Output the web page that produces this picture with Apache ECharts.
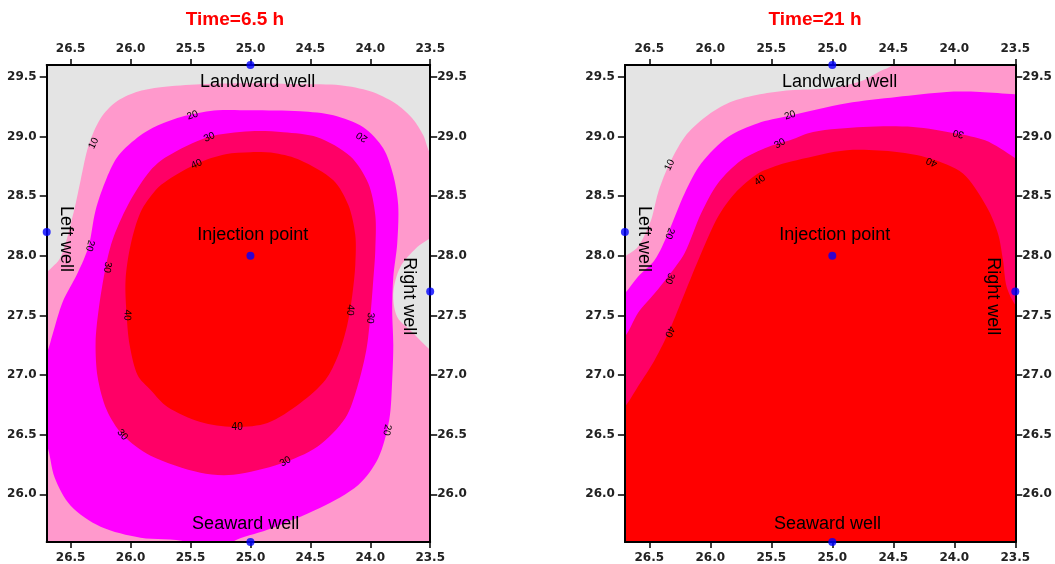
<!DOCTYPE html>
<html>
<head>
<meta charset="utf-8">
<script src="https://cdn.jsdelivr.net/npm/echarts@6/dist/echarts.min.js"></script>
<style>
  html, body { margin: 0; padding: 0; background: #fff; }
  #chart { width: 1055px; height: 564px; }
</style>
</head>
<body>
<div id="chart"></div>
<script>
// tick labels
var xTicks = [26.5, 26.0, 25.5, 25.0, 24.5, 24.0, 23.5];
var yTicks = [26.0, 26.5, 27.0, 27.5, 28.0, 28.5, 29.0, 29.5];
var titles = ['Time=6.5 h', 'Time=21 h'];

// wells: top, bottom, left, right, injection
var wells = [[25.0, 29.6], [25.0, 25.6], [26.7, 28.2], [23.5, 27.7], [25.0, 28.0]];
// name, x, y, rotate
var wellNames = [
    ['Landward well', 24.94, 29.455, 0],
    ['Seaward well', 25.04, 25.75, 0],
    ['Injection point', 24.98, 28.17, 0],
    ['Left well', 26.54, 28.14, -90],
    ['Right well', 23.68, 27.66, -90]
];

var levels = [10, 20, 30, 40];
var levelColors = ['#ff99cc', '#ff00ff', '#ff0066', '#ff0000'];

// contour outlines, Time=6.5 h (area above each level)
var t1_10 = [[26.85, 27.70], [26.95, 25.40], [23.30, 25.40], [23.35, 27.10],
    [23.50, 27.21], [23.642, 27.353], [23.775, 27.487], [23.808, 27.688], [23.75, 27.905], [23.608, 28.073], [23.50, 28.148], [23.35, 28.25],
    [23.35, 28.70], [23.50, 28.86], [23.558, 29.011], [23.65, 29.153], [23.792, 29.279], [24.0, 29.379], [24.25, 29.43], [24.583, 29.438],
    [25.0, 29.446], [25.417, 29.438], [25.75, 29.413], [25.958, 29.371], [26.125, 29.287], [26.25, 29.153], [26.35, 28.927], [26.417, 28.634],
    [26.475, 28.366], [26.583, 27.99], [26.70, 27.86]];
var t1_20 = [[25.0, 29.22], [24.583, 29.212], [24.308, 29.178], [24.058, 29.078], [23.892, 28.902], [23.808, 28.676], [23.767, 28.425],
    [23.775, 28.106], [23.808, 27.821], [23.817, 27.545], [23.808, 27.252], [23.817, 26.958], [23.842, 26.623], [23.933, 26.305], [24.10, 26.079],
    [24.417, 25.887], [24.858, 25.702], [25.15, 25.60], [25.22, 25.48], [25.45, 25.48], [25.533, 25.60], [25.917, 25.636], [26.25, 25.728],
    [26.50, 25.904], [26.633, 26.138], [26.70, 26.415], [26.82, 26.60], [26.82, 27.00], [26.70, 27.185], [26.65, 27.344], [26.567, 27.612],
    [26.442, 27.855], [26.35, 28.081], [26.292, 28.383], [26.2, 28.651], [26.1, 28.843], [25.917, 29.011], [25.75, 29.103], [25.525, 29.178],
    [25.275, 29.22]];
var t1_30 = [[25.0, 29.044], [24.725, 29.036], [24.442, 28.994], [24.167, 28.835], [24.017, 28.609], [23.958, 28.341], [23.958, 28.048],
    [23.975, 27.797], [24.0, 27.487], [24.033, 27.21], [24.108, 26.90], [24.208, 26.64], [24.442, 26.398], [24.75, 26.256], [25.142, 26.164],
    [25.417, 26.18], [25.833, 26.323], [26.067, 26.499], [26.2, 26.708], [26.275, 26.984], [26.292, 27.269], [26.267, 27.545], [26.208, 27.905],
    [26.142, 28.157], [26.0, 28.467], [25.833, 28.718], [25.692, 28.835], [25.358, 28.994]];
var t1_40 = [[25.0, 28.869], [24.792, 28.86], [24.583, 28.802], [24.308, 28.634], [24.183, 28.425], [24.125, 28.174], [24.125, 27.922],
    [24.15, 27.671], [24.192, 27.42], [24.267, 27.168], [24.375, 26.959], [24.583, 26.766], [24.858, 26.598], [25.142, 26.565], [25.417, 26.607],
    [25.692, 26.733], [25.833, 26.875], [25.942, 27.001], [26.008, 27.252], [26.033, 27.503], [26.042, 27.796], [26.0, 28.09], [25.917, 28.366],
    [25.792, 28.55], [25.692, 28.634], [25.442, 28.776], [25.208, 28.852]];

// contour outlines, Time=21 h
var t2_10 = [[26.85, 27.85], [26.70, 27.992], [26.593, 28.075], [26.486, 28.299], [26.429, 28.525], [26.347, 28.745], [26.21, 28.997],
    [26.043, 29.162], [25.839, 29.287], [25.593, 29.354], [25.347, 29.388], [25.019, 29.405], [24.748, 29.471], [24.609, 29.547], [24.503, 29.60],
    [24.40, 29.72], [23.30, 29.80], [23.30, 25.40], [26.90, 25.40]];
var t2_20 = [[26.85, 27.55], [26.70, 27.685], [26.593, 27.824], [26.456, 27.964], [26.347, 28.188], [26.21, 28.525], [26.074, 28.776],
    [25.855, 28.997], [25.609, 29.112], [25.371, 29.17], [24.882, 29.279], [24.472, 29.332], [24.062, 29.374], [23.789, 29.374], [23.50, 29.354],
    [23.30, 29.34], [23.30, 25.40], [26.90, 25.40]];
var t2_30 = [[26.85, 27.20], [26.70, 27.322], [26.593, 27.52], [26.456, 27.685], [26.347, 27.824], [26.21, 28.023], [26.074, 28.358],
    [25.937, 28.609], [25.746, 28.802], [25.527, 28.913], [25.347, 28.969], [25.158, 29.039], [24.748, 29.08], [24.338, 29.08], [23.98, 29.025],
    [23.748, 28.969], [23.625, 28.902], [23.50, 28.818], [23.30, 28.68], [23.30, 25.40], [26.90, 25.40]];
var t2_40 = [[26.85, 26.60], [26.70, 26.735], [26.593, 26.903], [26.456, 27.126], [26.333, 27.378], [26.21, 27.685], [26.074, 28.023],
    [25.937, 28.327], [25.80, 28.523], [25.609, 28.69], [25.445, 28.76], [25.292, 28.802], [24.882, 28.885], [24.472, 28.871], [24.199, 28.816],
    [23.929, 28.69], [23.734, 28.41], [23.642, 28.188], [23.601, 27.964], [23.571, 27.74], [23.50, 27.587], [23.35, 27.40], [23.30, 25.40],
    [26.90, 25.40]];

// contour labels: x, y, level, angle
var t1_labels = [
    [26.308, 28.944, 10, 65], [25.483, 29.178, 20, 20], [25.342, 28.994, 30, 25], [25.45, 28.768, 40, 25],
    [24.069, 28.997, 20, 145], [26.340, 28.085, 20, -105], [26.194, 27.905, 30, -100], [26.028, 27.503, 40, -92],
    [26.069, 26.499, 30, -50], [25.111, 26.565, 40, 0], [24.708, 26.275, 30, 30], [24.167, 27.545, 40, -95],
    [24.0, 27.478, 30, -95], [23.861, 26.54, 20, -100]
];
var t2_labels = [
    [26.333, 28.76, 10, 65], [26.333, 28.188, 20, -110], [26.333, 27.81, 30, -110], [26.333, 27.364, 40, -115],
    [25.347, 29.178, 20, 20], [25.429, 28.941, 30, 30], [25.593, 28.634, 40, 35],
    [23.966, 29.025, 30, 165], [24.185, 28.787, 40, 155]
];

var panels = [
    {contours: [t1_10, t1_20, t1_30, t1_40], labels: t1_labels},
    {contours: [t2_10, t2_20, t2_30, t2_40], labels: t2_labels}
];

var grids = [
    {left: 46.7, top: 65, width: 383.5, height: 477},
    {left: 624.9, top: 65, width: 390.4, height: 477}
];

var fontTick = 'DejaVu Sans';
var fontText = 'Liberation Sans, Arial, sans-serif';

function polyRender(fill) {
    return function (params, api) {
        if (params.dataIndexInside !== 0) return;
        var pts = [];
        for (var i = 0; i < params.dataInsideLength; i++) {
            pts.push(api.coord([api.value(0, i), api.value(1, i)]));
        }
        return {
            type: 'polygon',
            silent: true,
            shape: {points: pts, smooth: 0.3},
            style: {fill: fill, stroke: null}
        };
    };
}

function labelRender(params, api) {
    var p = api.coord([api.value(0), api.value(1)]);
    return {
        type: 'text',
        silent: true,
        x: p[0], y: p[1],
        rotation: api.value(3) * Math.PI / 180,
        style: {
            text: String(api.value(2)),
            fontSize: 10, fontFamily: fontText, fill: '#000',
            align: 'center', verticalAlign: 'middle'
        }
    };
}

function wellTextRender(params, api) {
    var w = wellNames[params.dataIndex];
    var p = api.coord([api.value(0), api.value(1)]);
    return {
        type: 'text',
        silent: true,
        x: p[0], y: p[1],
        rotation: w[3] * Math.PI / 180,
        style: {
            text: w[0],
            fontSize: 18, fontFamily: fontText, fill: '#000',
            align: 'center', verticalAlign: 'middle'
        }
    };
}

function xAx(gi, pos) {
    return {
        type: 'value', gridIndex: gi, position: pos,
        min: 23.5, max: 26.7, inverse: true, z: 8,
        axisLine: {show: true, onZero: false, lineStyle: {color: '#000', width: 2}},
        axisTick: {show: true, length: 6, customValues: xTicks, lineStyle: {color: '#000', width: 1.5}},
        axisLabel: {
            customValues: xTicks, margin: 10,
            formatter: function (v) { return v.toFixed(1); },
            fontFamily: fontTick, fontWeight: 'bold', fontSize: 12, color: '#222'
        },
        splitLine: {show: false}
    };
}

function yAx(gi, pos) {
    return {
        type: 'value', gridIndex: gi, position: pos,
        min: 25.6, max: 29.6, z: 8,
        axisLine: {show: true, onZero: false, lineStyle: {color: '#000', width: 2}},
        axisTick: {show: true, length: 7, customValues: yTicks, lineStyle: {color: '#000', width: 1.5}},
        axisLabel: {
            customValues: yTicks, margin: pos === 'left' ? 10 : 7,
            formatter: function (v) { return v.toFixed(1); },
            fontFamily: fontTick, fontWeight: 'bold', fontSize: 12, color: '#222'
        },
        splitLine: {show: false}
    };
}

var series = [];
panels.forEach(function (pn, k) {
    var xi = k * 2, yi = k * 2;
    pn.contours.forEach(function (poly, j) {
        series.push({
            type: 'custom', name: titles[k] + ' ' + levels[j],
            xAxisIndex: xi, yAxisIndex: yi, clip: true,
            renderItem: polyRender(levelColors[j]),
            data: poly, z: 2 + j
        });
    });
    series.push({
        type: 'custom', xAxisIndex: xi, yAxisIndex: yi,
        renderItem: labelRender, data: pn.labels, z: 10
    });
    series.push({
        type: 'custom', xAxisIndex: xi, yAxisIndex: yi,
        renderItem: wellTextRender,
        data: wellNames.map(function (w) { return [w[1], w[2]]; }), z: 10
    });
    series.push({
        type: 'scatter', xAxisIndex: xi, yAxisIndex: yi, clip: false,
        symbol: 'circle', symbolSize: 8,
        itemStyle: {color: '#0000ff'},
        data: wells, z: 12
    });
});

var myChart = echarts.init(document.getElementById('chart'));
var option = {
    animation: false,
    backgroundColor: '#fff',
    title: [
        {text: titles[0], left: 230, top: 5, textAlign: 'center',
         textStyle: {color: '#ff0000', fontSize: 19, fontWeight: 'bold', fontFamily: fontText}},
        {text: titles[1], left: 810, top: 5, textAlign: 'center',
         textStyle: {color: '#ff0000', fontSize: 19, fontWeight: 'bold', fontFamily: fontText}}
    ],
    grid: grids.map(function (g) {
        return {left: g.left, top: g.top, width: g.width, height: g.height,
            show: true, backgroundColor: '#e4e4e4', borderWidth: 0,
            containLabel: false, outerBoundsMode: 'none'};
    }),
    xAxis: [xAx(0, 'bottom'), xAx(0, 'top'), xAx(1, 'bottom'), xAx(1, 'top')],
    yAxis: [yAx(0, 'left'), yAx(0, 'right'), yAx(1, 'left'), yAx(1, 'right')],
    series: series
};
myChart.setOption(option);
</script>
</body>
</html>
